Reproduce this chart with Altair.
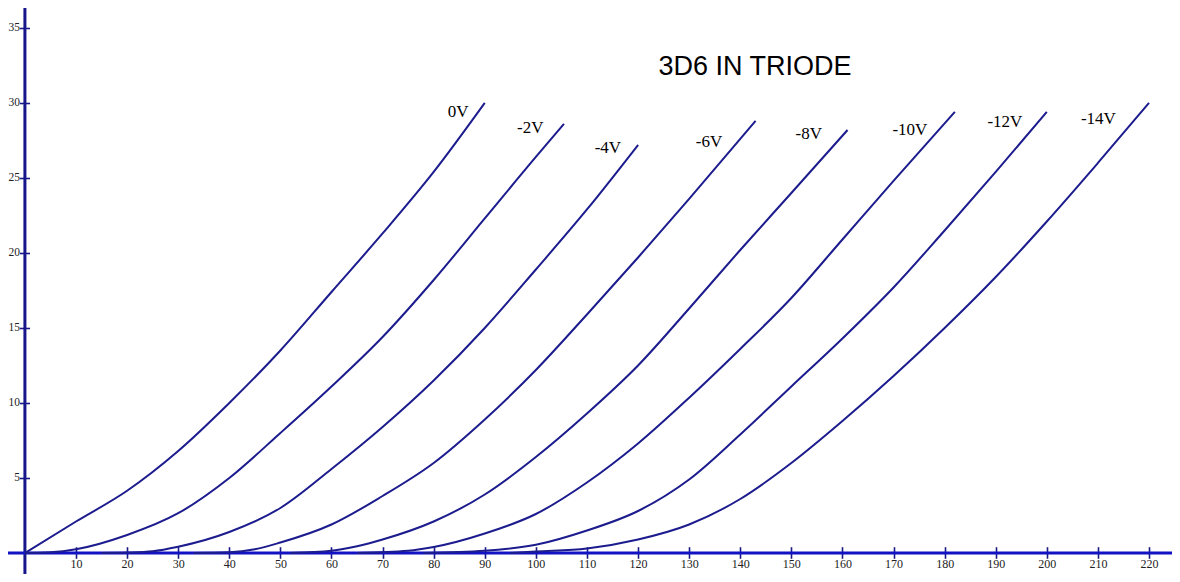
import altair as alt
import pandas as pd

# ---- data (anode volts vs plate current mA) ----
title_text = "3D6 IN TRIODE"

g0_x = [0, 10, 20, 30, 40, 50, 60, 70, 80, 90]
g0_y = [0, 2.1, 4.15, 6.8, 10.0, 13.5, 17.4, 21.3, 25.4, 30.0]

g2_x = [0, 5, 10, 20, 30, 40, 50, 60, 70, 80, 90, 100, 105.5]
g2_y = [0, 0.05, 0.25, 1.2, 2.65, 5.0, 8.0, 11.1, 14.4, 18.2, 22.3, 26.4, 28.6]

g4_x = [15, 20, 25, 30, 40, 50, 60, 70, 80, 90, 100, 110, 120]
g4_y = [0, 0.03, 0.12, 0.42, 1.4, 3.0, 5.6, 8.4, 11.5, 15.0, 18.9, 22.9, 27.2]

g6_x = [33, 40, 45, 50, 60, 70, 80, 90, 100, 110, 120, 130, 143]
g6_y = [0, 0.05, 0.25, 0.7, 1.9, 3.8, 6.0, 8.9, 12.2, 15.9, 19.7, 23.6, 28.8]

g8_x = [52, 60, 65, 70, 80, 90, 100, 110, 120, 130, 140, 150, 161]
g8_y = [0, 0.15, 0.45, 0.9, 2.1, 3.9, 6.4, 9.3, 12.5, 16.3, 20.2, 24.0, 28.2]

g10_x = [65, 75, 80, 90, 100, 110, 120, 130, 140, 150, 160, 170, 182]
g10_y = [0, 0.15, 0.4, 1.3, 2.6, 4.7, 7.3, 10.35, 13.6, 17.0, 20.9, 24.8, 29.4]

g12_x = [78, 90, 100, 110, 120, 130, 140, 150, 160, 170, 180, 190, 200]
g12_y = [0, 0.15, 0.55, 1.5, 2.8, 4.9, 7.9, 11.1, 14.3, 17.7, 21.5, 25.4, 29.4]

g14_x = [95, 100, 110, 120, 130, 140, 150, 160, 170, 180, 190, 200, 210, 220]
g14_y = [0, 0.1, 0.3, 0.9, 1.9, 3.6, 6.0, 8.8, 11.8, 15.0, 18.4, 22.1, 26.0, 30.0]

series_names = ["0V", "-2V", "-4V", "-6V", "-8V", "-10V", "-12V", "-14V"]
series_x = [g0_x, g2_x, g4_x, g6_x, g8_x, g10_x, g12_x, g14_x]
series_y = [g0_y, g2_y, g4_y, g6_y, g8_y, g10_y, g12_y, g14_y]

# curve label anchors (data units)
label_x = [84.8, 98.9, 114.1, 133.9, 153.4, 173.2, 191.8, 210.1]
label_y = [29.4, 28.3, 27.0, 27.4, 27.9, 28.2, 28.7, 28.9]

x_ticks = list(range(10, 230, 10))
y_ticks = [5, 10, 15, 20, 25, 30, 35]

# ---- build tables ----
rows = []
for name, xs, ys in zip(series_names, series_x, series_y):
    for i, (a, b) in enumerate(zip(xs, ys)):
        rows.append({"grid": name, "va": a, "ia": b, "order": i})
df = pd.DataFrame(rows)
labels_df = pd.DataFrame({"grid": series_names, "va": label_x, "ia": label_y})
title_df = pd.DataFrame({"t": [title_text]})

W, H = 1164, 566
x_scale = alt.Scale(domain=[-3.31, 224.5], nice=False, zero=False)
y_scale = alt.Scale(domain=[-1.4, 36.33], nice=False, zero=False)

CURVE = "#1c1c8e"
TICK = "#1a1a86"

x_axis = alt.Axis(
    values=x_ticks, orient="bottom", offset=-27.3, domain=False, grid=False,
    tickSize=11.6, tickWidth=1.6, tickColor=TICK,
    labelFont="Liberation Serif", labelFontSize=12, labelColor="#222222",
    labelPadding=0, title=None,
)
y_axis = alt.Axis(
    values=y_ticks, orient="left", offset=-21.5, domain=False, grid=False,
    tickSize=10, tickWidth=1.6, tickColor=TICK,
    labelFont="Liberation Serif", labelFontSize=11.5, labelColor="#222222",
    labelPadding=0, title=None,
)

curves = alt.Chart(df).mark_line(color=CURVE, strokeWidth=2, interpolate="monotone").encode(
    x=alt.X("va:Q", scale=x_scale, axis=x_axis),
    y=alt.Y("ia:Q", scale=y_scale, axis=y_axis),
    detail="grid:N",
    order="order:Q",
)

x_line = alt.Chart(title_df).mark_rule(color="#1212c4", strokeWidth=3).encode(
    y=alt.Y(datum=0, type="quantitative", scale=y_scale)
)
y_line = alt.Chart(title_df).mark_rule(color="#16168a", strokeWidth=3).encode(
    x=alt.X(datum=0, type="quantitative", scale=x_scale)
)

labels = alt.Chart(labels_df).mark_text(
    font="Liberation Serif", fontSize=17, color="#000000", align="center", baseline="middle"
).encode(
    x=alt.X("va:Q", scale=x_scale),
    y=alt.Y("ia:Q", scale=y_scale),
    text="grid:N",
)

title = alt.Chart(title_df).mark_text(
    font="Liberation Sans", fontSize=27, color="#000000", align="center", baseline="middle"
).encode(
    x=alt.value(747), y=alt.value(59), text="t:N"
)

chart = alt.layer(y_line, x_line, curves, labels, title).properties(
    width=W, height=H,
    autosize=alt.AutoSizeParams(type="none"),
    padding={"left": 0, "top": 0, "right": 0, "bottom": 0},
    background="#ffffff",
).configure_view(stroke=None)

chart.save("out.html", embed_options={"renderer": "svg", "actions": False})
